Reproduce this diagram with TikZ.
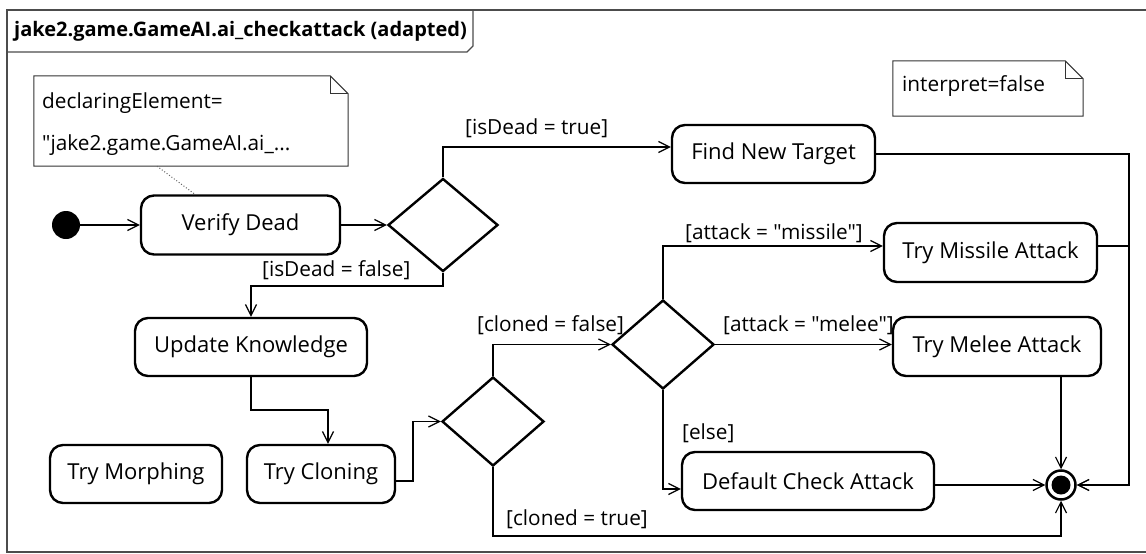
\documentclass[tikz,border=0pt]{standalone}
\usepackage{fontspec}
\setmainfont{Open Sans}[Ligatures=TeXOff]
\usetikzlibrary{arrows.meta,shapes.geometric,calc}
\begin{document}
\begin{tikzpicture}[x=1pt,y=-1pt,
  every node/.style={font=\fontsize{20.8}{25}\selectfont},
  act/.style={draw, line width=2.4pt, rounded corners=13pt, fill=white, inner sep=0pt, font=\fontsize{22}{26}\selectfont},
  dec/.style={draw, diamond, line width=2.4pt, inner sep=0pt, fill=white},
  arr/.style={line width=1.2pt, -{Straight Barb[length=11pt,width=11pt,line width=1.2pt]}},
  lbl/.style={inner sep=0pt, anchor=west},
  notepath/.style={draw=black!80, line width=1pt, fill=white}]
\useasboundingbox (0,0) rectangle (1146,554);
% frame
\draw[draw=black!70, line width=1.3pt] (7,10) rectangle (1160,552);
\draw[draw=black!70, line width=1.3pt] (7,10) -- (473,10) -- (473,46) -- (467,52) -- (7,52);
\node[lbl, font=\bfseries\fontsize{20}{24}\selectfont] (title) at (14,31) {jake2.game.GameAI.ai\_checkattack (adapted)};
% note 1
\node[minimum width=314pt, minimum height=90pt, inner sep=0pt] (note1) at (191,121) {};
\draw[notepath] (note1.north west) -- ([xshift=-18pt]note1.north east) -- ([yshift=-18pt]note1.north east) -- (note1.south east) -- (note1.south west) -- cycle;
\draw[draw=black!80, line width=1pt] ([xshift=-18pt]note1.north east) -- ([xshift=-18pt,yshift=-18pt]note1.north east) -- ([yshift=-18pt]note1.north east);
\node[lbl] (n1a) at (42,103) {declaringElement=};
\node[lbl] (n1b) at (42,145) {"jake2.game.GameAI.ai\_...};
% note 2
\node[minimum width=190pt, minimum height=55pt, inner sep=0pt] (note2) at (988,88.5) {};
\draw[notepath] (note2.north west) -- ([xshift=-18pt]note2.north east) -- ([yshift=-18pt]note2.north east) -- (note2.south east) -- (note2.south west) -- cycle;
\draw[draw=black!80, line width=1pt] ([xshift=-18pt]note2.north east) -- ([xshift=-18pt,yshift=-18pt]note2.north east) -- ([yshift=-18pt]note2.north east);
\node[lbl] (n2a) at (902,86) {interpret=false};
% nodes
\node[circle, fill=black, minimum size=28pt, inner sep=0pt] (init) at (66,225) {};
\node[act, minimum width=199pt, minimum height=59pt] (verify) at (240.5,225) {Verify Dead};
\node[dec, minimum width=110pt, minimum height=93pt] (d1) at (443,225) {};
\node[act, minimum width=203pt, minimum height=58pt] (findnew) at (773.5,154) {Find New Target};
\node[act, minimum width=232pt, minimum height=58pt] (update) at (251,347) {Update Knowledge};
\node[act, minimum width=172pt, minimum height=58pt] (morph) at (136,474) {Try Morphing};
\node[act, minimum width=148pt, minimum height=58pt] (cloning) at (321,474) {Try Cloning};
\node[dec, minimum width=102pt, minimum height=89pt] (d3) at (493,421.5) {};
\node[dec, minimum width=102pt, minimum height=89pt] (d2) at (663,344.5) {};
\node[act, minimum width=213pt, minimum height=59pt] (missile) at (990.5,252.5) {Try Missile Attack};
\node[act, minimum width=208pt, minimum height=59pt] (melee) at (997,346.5) {Try Melee Attack};
\node[act, minimum width=252pt, minimum height=58pt] (default) at (808,481) {Default Check Attack};
\node[circle, draw, line width=2.5pt, fill=white, minimum size=29pt, inner sep=0pt] (final) at (1061,485) {};
\node[circle, fill=black, minimum size=19pt, inner sep=0pt] (finalin) at (final) {};
\coordinate (rj) at (1129,485);
% connectors
\draw[draw=black!60, line width=1pt, dotted] (note1.south -| 157,0) -- (verify.north -| 195,0);
\draw[arr] (init) -- (verify);
\draw[arr] (verify) -- (d1);
\draw[arr] (d1.north) |- (findnew.west |- 0,147);
\node[lbl] (l1) at (465,128) {[isDead = true]};
\draw[arr] (d1.south) -- (d1.south |- 0,286) -| (update.north);
\node[lbl] (l2) at (262,270) {[isDead = false]};
\draw[arr] (update.south) -- (update.south |- 0,410) -| (cloning.north -| 328,0);
\draw[arr] (cloning.east |- 0,481) -- (413,481) |- (d3.west);
\draw[arr] (d3.north) |- (d2.west);
\node[lbl] (l3) at (477,325) {[cloned = false]};
\draw[arr] (d3.south) |- (final.south |- 0,536) -- (final.south);
\node[lbl] (l4) at (506,519) {[cloned = true]};
\draw[arr] (d2.north) |- (missile.west |- 0,246);
\node[lbl] (l5) at (685,233) {[attack = "missile"]};
\draw[arr] (d2.east) -- (d2.east -| melee.west);
\node[lbl] (l6) at (723,325) {[attack = "melee"]};
\draw[arr] (d2.south) |- (default.west |- 0,489);
\node[lbl] (l7) at (682,433) {[else]};
\draw[arr] (default.east |- final) -- (final.west);
\draw[arr] (melee.south -| final) -- (final.north);
\draw[arr] (findnew.east) -| (rj) -- (final.east);
\draw[arr] (missile.east |- 0,246) -| (rj) -- (final.east);
\end{tikzpicture}
\end{document}
